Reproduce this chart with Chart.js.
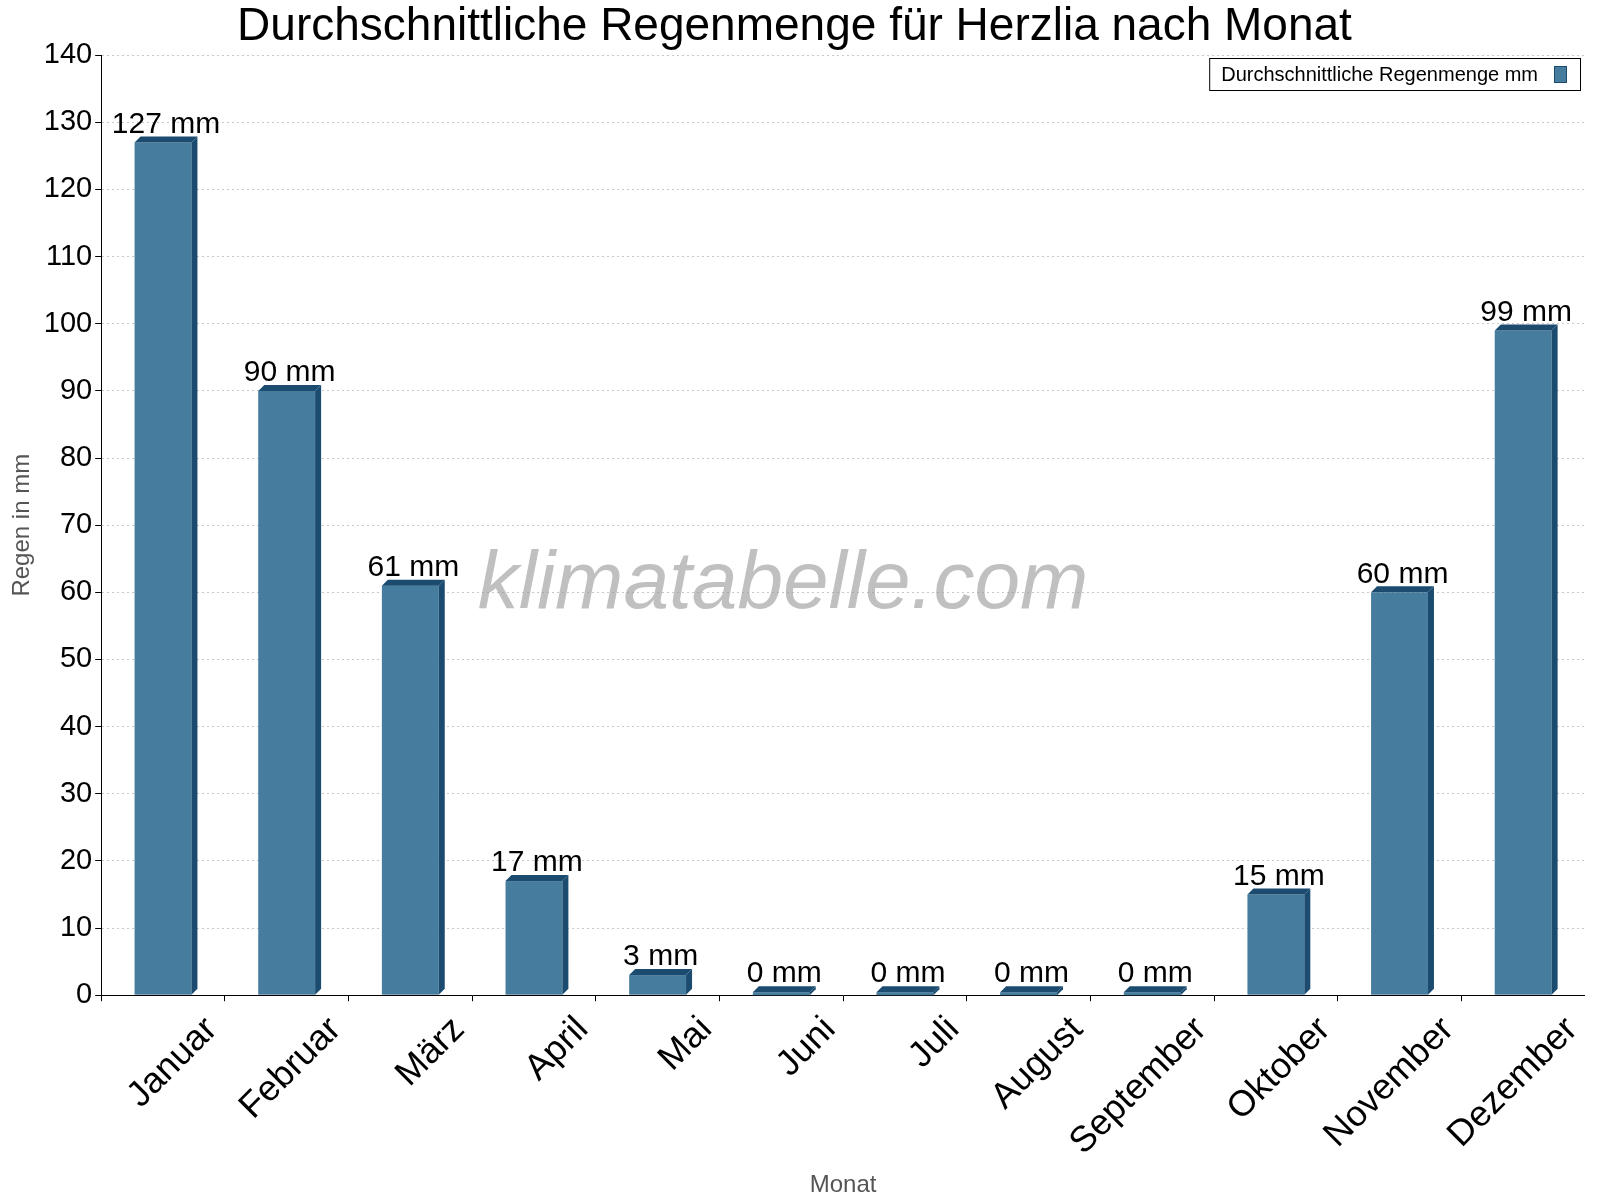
<!DOCTYPE html>
<html>
<head>
<meta charset="utf-8">
<script src="https://cdn.jsdelivr.net/npm/chart.js@4.4.0/dist/chart.umd.min.js"></script>
<style>
  body { margin: 0; background: #fff; overflow: hidden; }
  #wrap { width: 1585px; height: 1200px; }
</style>
</head>
<body>
<div id="wrap"><canvas id="chart"></canvas></div>
<script>
const months = ['Januar', 'Februar', 'März', 'April', 'Mai', 'Juni', 'Juli', 'August', 'September', 'Oktober', 'November', 'Dezember'];
const rain = [127, 90, 61, 17, 3, 0, 0, 0, 0, 15, 60, 99];
const seriesLabel = 'Durchschnittliche Regenmenge mm';

const FRONT = '#467c9e';
const SIDE = '#1b4b6f';
const DEPTH = 6;
const FONT = '"Liberation Sans", Arial, sans-serif';

// 3D Kanten, Werte-Beschriftung, Monatsnamen, Wasserzeichen, Legende
const extras = {
    id: 'extras',
    afterDatasetsDraw(chart) {
        const ctx = chart.ctx;
        const area = chart.chartArea;
        const xScale = chart.scales.x;
        const meta = chart.getDatasetMeta(0);
        meta.data.forEach((bar, i) => {
            const half = bar.width / 2;
            const left = bar.x - half, right = bar.x + half;
            let top = bar.y;
            const base = bar.base;
            if (base - top < 3) top = base - 3;
            ctx.save();
            ctx.fillStyle = FRONT;
            ctx.fillRect(left, top, right - left, base - top);
            ctx.fillStyle = SIDE;
            ctx.beginPath();
            ctx.moveTo(left, top);
            ctx.lineTo(left + DEPTH, top - DEPTH);
            ctx.lineTo(right + DEPTH, top - DEPTH);
            ctx.lineTo(right, top);
            ctx.closePath();
            ctx.fill();
            ctx.beginPath();
            ctx.moveTo(right, top);
            ctx.lineTo(right + DEPTH, top - DEPTH);
            ctx.lineTo(right + DEPTH, base - DEPTH);
            ctx.lineTo(right, base);
            ctx.closePath();
            ctx.fill();
            ctx.fillStyle = '#000';
            ctx.font = '30px ' + FONT;
            ctx.textAlign = 'center';
            ctx.textBaseline = 'bottom';
            ctx.fillText(rain[i] + ' mm', bar.x + DEPTH / 2, top - DEPTH + 3);
            ctx.restore();
        });

        // Monatsnamen schräg
        ctx.save();
        ctx.fillStyle = '#000';
        ctx.font = '36px ' + FONT;
        ctx.textAlign = 'right';
        ctx.textBaseline = 'top';
        months.forEach((m, i) => {
            const x = xScale.getPixelForValue(i) + 36;
            const y = area.bottom + 16;
            ctx.save();
            ctx.translate(x, y);
            ctx.rotate(-Math.PI / 4);
            ctx.fillText(m, 0, 0);
            ctx.restore();
        });
        ctx.restore();

        ctx.save();
        ctx.fillStyle = 'rgba(150,150,150,0.6)';
        ctx.font = 'italic 82px ' + FONT;
        ctx.textAlign = 'center';
        ctx.textBaseline = 'middle';
        ctx.fillText('klimatabelle.com', 783, 585);

        ctx.font = '20px ' + FONT;
        ctx.textAlign = 'left';
        ctx.textBaseline = 'middle';
        const tw = ctx.measureText(seriesLabel).width;
        const w = tw + 54;
        const bx = area.right - 5 - w, by = 58;
        ctx.fillStyle = '#fff';
        ctx.fillRect(bx, by, w, 32);
        ctx.strokeStyle = '#000';
        ctx.lineWidth = 1;
        ctx.strokeRect(bx + 0.5, by + 0.5, w, 32);
        ctx.fillStyle = '#000';
        ctx.fillText(seriesLabel, bx + 12, by + 17);
        ctx.fillStyle = FRONT;
        ctx.fillRect(bx + tw + 28, by + 8, 12, 16);
        ctx.strokeStyle = SIDE;
        ctx.strokeRect(bx + tw + 28.5, by + 8.5, 12, 16);
        ctx.restore();
    }
};

new Chart(document.getElementById('chart').getContext('2d'), {
    type: 'bar',
    data: {
        labels: months,
        datasets: [{
            label: seriesLabel,
            data: rain,
            backgroundColor: 'rgba(0,0,0,0)',
            barPercentage: 0.46,
            categoryPercentage: 1
        }]
    },
    options: {
        responsive: true,
        maintainAspectRatio: false,
        animation: false,
        layout: { padding: { top: 0, right: 0, left: 4, bottom: 0 } },
        plugins: {
            legend: { display: false },
            tooltip: { enabled: false },
            title: {
                display: true,
                text: 'Durchschnittliche Regenmenge für Herzlia nach Monat',
                color: '#000',
                font: { family: FONT, size: 46, weight: 'normal' },
                padding: { top: 0, bottom: 0 }
            }
        },
        scales: {
            y: {
                min: 0,
                max: 140,
                ticks: {
                    stepSize: 10,
                    color: '#000',
                    font: { family: FONT, size: 29 }
                },
                grid: {
                    color: '#c8c8c8',
                    tickColor: '#000',
                    tickLength: 6
                },
                border: { color: '#000', dash: [2, 3] },
                title: {
                    display: true,
                    text: 'Regen in mm',
                    color: '#555',
                    font: { family: FONT, size: 24 }
                }
            },
            x: {
                ticks: { display: false },
                grid: { display: true, drawOnChartArea: false, offset: true, tickColor: '#000', tickLength: 6 },
                border: { color: '#000' },
                title: {
                    display: true,
                    text: 'Monat',
                    color: '#555',
                    font: { family: FONT, size: 24 },
                    padding: { top: 170, bottom: 0 }
                }
            }
        }
    },
    plugins: [extras]
});
</script>
</body>
</html>
